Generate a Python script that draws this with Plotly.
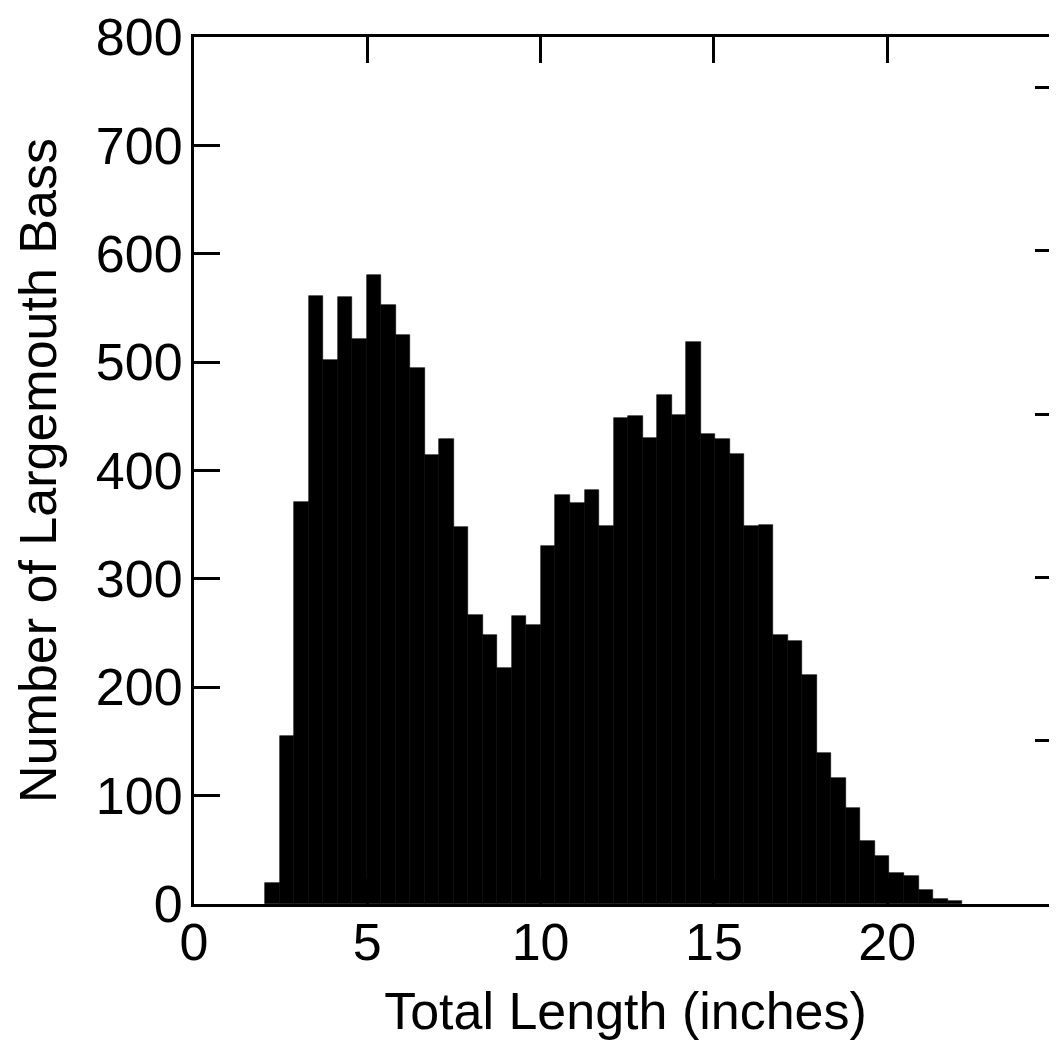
import plotly.graph_objects as go

# Histogram data (bin lower edge, bin width in inches; counts per bin)
BIN_START = 2.05
BIN_WIDTH = 0.419
counts = [19, 155, 371, 561, 502, 560, 521, 580, 553, 525,
          495, 414, 429, 348, 267, 248, 218, 266, 257, 330,
          377, 370, 382, 349, 448, 450, 430, 470, 451, 519,
          434, 429, 415, 349, 350, 248, 243, 211, 139, 116,
          89, 58, 44, 29, 26, 13, 5, 3]
x_ticks = [0, 5, 10, 15, 20]
y_ticks = [0, 100, 200, 300, 400, 500, 600, 700, 800]
pct_ticks = [0, 1, 2, 3, 4, 5]

centers = [BIN_START + BIN_WIDTH * (i + 0.5) for i in range(len(counts))]
total = sum(counts)

FONT = "Liberation Sans, Arial, Helvetica, sans-serif"
FS = 52

fig = go.Figure()
fig.add_trace(go.Bar(
    x=centers, y=counts, width=[BIN_WIDTH] * len(counts),
    marker=dict(color="black", line=dict(color="black", width=0.6)),
    showlegend=False, hoverinfo="x+y",
))
# invisible trace for the percent axis on the right
fig.add_trace(go.Scatter(
    x=[None], y=[None], yaxis="y2", showlegend=False, hoverinfo="skip",
))

fig.update_layout(
    width=1049, height=1032,
    margin=dict(l=186, r=0, t=23, b=136),
    paper_bgcolor="white", plot_bgcolor="white",
    bargap=0,
    font=dict(family=FONT, size=FS, color="black"),
    xaxis=dict(
        range=[0, 24.9], tickvals=x_ticks, ticktext=[str(v) for v in x_ticks],
        ticks="inside", ticklen=26, tickwidth=3, tickcolor="black",
        showline=True, linewidth=3, linecolor="black", mirror="ticks",
        showgrid=False, zeroline=False, ticklabelstandoff=-9,
        ticklabeloverflow="allow",
        tickfont=dict(family=FONT, size=FS, color="black"),
        title=dict(text="Total Length (inches)", standoff=25,
                   font=dict(family=FONT, size=FS, color="black")),
    ),
    yaxis=dict(
        range=[0, 800], tickvals=y_ticks, ticktext=[str(v) for v in y_ticks],
        ticks="inside", ticklen=26, tickwidth=3, tickcolor="black",
        showline=True, linewidth=3, linecolor="black", mirror=False,
        showgrid=False, zeroline=False, ticklabelstandoff=-2,
        ticklabeloverflow="allow",
        tickfont=dict(family=FONT, size=FS, color="black"),
        title=dict(text="Number of Largemouth Bass", standoff=23,
                   font=dict(family=FONT, size=FS, color="black")),
    ),
    yaxis2=dict(
        overlaying="y", side="right",
        range=[0, 800 / total * 100], tickvals=pct_ticks,
        ticks="inside", ticklen=22, tickwidth=3, tickcolor="black",
        showticklabels=False, showline=False, showgrid=False, zeroline=False,
    ),
)

fig.write_html("out.html")
